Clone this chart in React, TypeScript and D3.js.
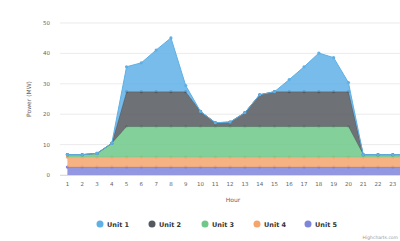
import React from "react";
import * as d3 from "d3";

const hours = [1, 2, 3, 4, 5, 6, 7, 8, 9, 10, 11, 12, 13, 14, 15, 16, 17, 18, 19, 20, 21, 22, 23, 24];
const unit1 = [0, 0, 0, 0, 8.2, 9.5, 13.7, 17.7, 2, 0, 0, 0, 0, 0, 0, 4, 8.2, 12.7, 11.2, 3, 0, 0, 0, 0];
const unit2 = [0, 0, 0, 0, 11.5, 11.5, 11.5, 11.5, 11.5, 5, 1.3, 1.5, 4.6, 10.5, 11.5, 11.5, 11.5, 11.5, 11.5, 11.5, 0, 0, 0, 0];
const unit3 = [0.8, 0.8, 1.2, 4.5, 10, 10, 10, 10, 10, 10, 10, 10, 10, 10, 10, 10, 10, 10, 10, 10, 0.8, 0.8, 0.8, 0.8];
const unit4 = [3.3, 3.3, 3.3, 3.3, 3.3, 3.3, 3.3, 3.3, 3.3, 3.3, 3.3, 3.3, 3.3, 3.3, 3.3, 3.3, 3.3, 3.3, 3.3, 3.3, 3.3, 3.3, 3.3, 3.3];
const unit5 = [2.6, 2.6, 2.6, 2.6, 2.6, 2.6, 2.6, 2.6, 2.6, 2.6, 2.6, 2.6, 2.6, 2.6, 2.6, 2.6, 2.6, 2.6, 2.6, 2.6, 2.6, 2.6, 2.6, 2.6];
const yTicks = [0, 10, 20, 30, 40, 50];
const seriesNames = ["Unit 1", "Unit 2", "Unit 3", "Unit 4", "Unit 5"];
const colors = ["#5fb0e6", "#55585e", "#6fc888", "#f5a56c", "#8085dc"];

const font = "'DejaVu Sans', sans-serif";

export default function App() {
  const width = 400;
  const height = 241;

  // stacking order: Unit 5 at the bottom, Unit 1 on top
  const values = [unit1, unit2, unit3, unit4, unit5];
  const rows = hours.map((h, i) => {
    const r: any = { hour: h };
    seriesNames.forEach((n, k) => (r[n] = values[k][i]));
    return r;
  });
  const keys = seriesNames.slice().reverse();
  const stacked = d3.stack().keys(keys)(rows);

  const x = d3.scalePoint<number>().domain(hours).range([60, 415]).padding(0.5);
  const y = d3.scaleLinear().domain([0, 50]).range([175, 23]);

  const area = d3
    .area<any>()
    .x((d) => x(d.data.hour)!)
    .y0((d) => y(d[0]))
    .y1((d) => y(d[1]));
  const line = d3
    .line<any>()
    .x((d) => x(d.data.hour)!)
    .y((d) => y(d[1]));

  const colorOf = (name: string) => colors[seriesNames.indexOf(name)];

  return (
    <div style={{ position: "fixed", left: 0, top: 0, width, height, overflow: "hidden", background: "#fff" }}>
      <svg width={width} height={height} style={{ display: "block" }}>
        {/* grid */}
        {yTicks.map((t) => (
          <g key={t}>
            <line x1={60} x2={420} y1={y(t)} y2={y(t)} stroke="#e6e6e6" strokeWidth={0.8} />
            <text x={50} y={y(t) + 2} fontSize={5.5} fill="#666" textAnchor="end" fontFamily={font}>
              {t}
            </text>
          </g>
        ))}

        {/* stacked areas */}
        {stacked.map((s) => (
          <g key={s.key}>
            <path d={area(s as any)!} fill={colorOf(s.key)} fillOpacity={0.85} />
            <path d={line(s as any)!} fill="none" stroke={colorOf(s.key)} strokeWidth={1} />
            {s.map((d: any, i) => (
              <circle key={i} cx={x(d.data.hour)!} cy={y(d[1])} r={1.6} fill={colorOf(s.key)} />
            ))}
          </g>
        ))}

        {/* x axis */}
        <line x1={60} x2={420} y1={y(0) + 0.5} y2={y(0) + 0.5} stroke="#ccd6eb" strokeWidth={0.8} />
        {hours
          .filter((h) => x(h)! < 396)
          .map((h) => (
            <text key={h} x={x(h)!} y={186} fontSize={5.5} fill="#666" textAnchor="middle" fontFamily={font}>
              {h}
            </text>
          ))}
        <text x={233} y={202} fontSize={6} fill="#666" textAnchor="middle" fontFamily={font}>
          Hour
        </text>
        <text
          transform={`translate(31,${y(25)}) rotate(-90)`}
          fontSize={6}
          fill="#666"
          textAnchor="middle"
          fontFamily={font}
        >
          Power (MW)
        </text>

        {/* legend */}
        {seriesNames.map((n, i) => {
          const lx = [100, 152, 205, 257, 308][i];
          return (
            <g key={n}>
              <circle cx={lx} cy={224} r={3.5} fill={colors[i]} />
              <text x={lx + 7} y={226.5} fontSize={6.5} fill="#333" fontFamily={font} fontWeight="bold">
                {n}
              </text>
            </g>
          );
        })}

        <text x={398} y={239} fontSize={4.5} fill="#999" textAnchor="end" fontFamily={font}>
          Highcharts.com
        </text>
      </svg>
    </div>
  );
}
